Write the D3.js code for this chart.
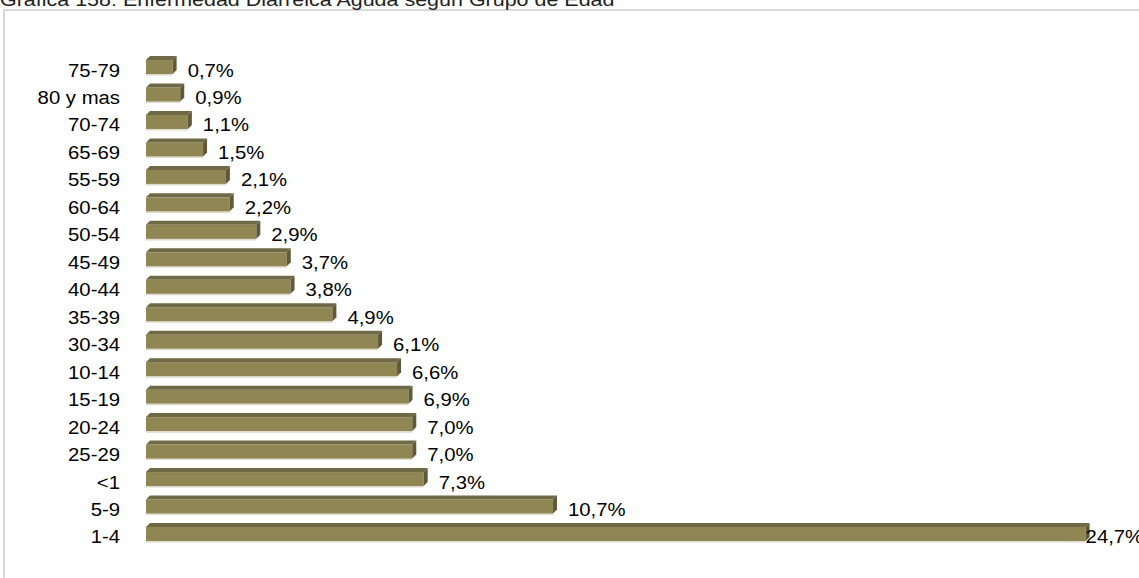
<!DOCTYPE html>
<html><head><meta charset="utf-8">
<script src="https://cdn.jsdelivr.net/npm/d3@7"></script>
<style>html,body{margin:0;padding:0;background:#fff;overflow:hidden}</style>
</head><body>
<svg id="c" width="1139" height="578"></svg>
<script>
const title = "Grafica 158: Enfermedad Diarreica Aguda según Grupo de Edad";
const categories = ["75-79","80 y mas","70-74","65-69","55-59","60-64","50-54","45-49","40-44","35-39","30-34","10-14","15-19","20-24","25-29","<1","5-9","1-4"];
const values = [0.7,0.9,1.1,1.5,2.1,2.2,2.9,3.7,3.8,4.9,6.1,6.6,6.9,7.0,7.0,7.3,10.7,24.7];

const W = 1139, H = 578;
const svg = d3.select("#c");
const sx = 1.07, fs = 19;

svg.append("rect").attr("x",4).attr("y",10).attr("width",1300).attr("height",700)
  .attr("fill","none").attr("stroke","#d9d9d9").attr("stroke-width",2);

svg.append("text").attr("transform","translate(0,6) scale(1.13,1)")
  .attr("font-family","Liberation Sans, Arial, sans-serif").attr("font-size",fs)
  .attr("fill","#222").text(title);

const x = d3.scaleLinear().domain([0,25]).range([146,1097]);
const y = d3.scaleBand().domain(categories).range([51.3,545.7]).paddingInner(0.345).paddingOuter(0.1725);
const d = 4;
const data = categories.map((c,i)=>({c, v: values[i]}));

const g = svg.append("g");
data.forEach(o=>{
  const x0 = x(0), x1 = x(o.v), yt = y(o.c), yb = yt + y.bandwidth();
  g.append("line").attr("x1",x0).attr("x2",x1).attr("y1",yb+0.8).attr("y2",yb+0.8).attr("stroke","#dedbcc").attr("stroke-width",1.5);
  g.append("rect").attr("x",x0).attr("y",yt+d).attr("width",x1-x0).attr("height",yb-yt-d).attr("fill","#8f8654");
  g.append("polygon").attr("points",[[x0,yt+d],[x0+d,yt],[x1+d,yt],[x1,yt+d]].map(p=>p.join(",")).join(" ")).attr("fill","#6f6a45");
  g.append("polygon").attr("points",[[x1,yt+d],[x1+d,yt],[x1+d,yb-d],[x1,yb]].map(p=>p.join(",")).join(" ")).attr("fill","#5d5939");
});

const fmt = v => d3.format(".1f")(v).replace(".",",") + "%";
data.forEach(o=>{
  const cy = y(o.c) + y.bandwidth()/2 + 11.5;
  svg.append("text").attr("transform",`translate(120,${cy}) scale(${sx},1)`)
    .attr("text-anchor","end").attr("font-family","Liberation Sans, Arial, sans-serif")
    .attr("font-size",fs).attr("fill","#000").text(o.c);
  let lx = x(o.v) + 15;
  if (lx + 50 > W) lx = x(o.v);
  svg.append("text").attr("transform",`translate(${lx},${cy}) scale(${sx},1)`)
    .attr("font-family","Liberation Sans, Arial, sans-serif")
    .attr("font-size",fs).attr("fill","#000").text(fmt(o.v));
});
</script>
</body></html>
